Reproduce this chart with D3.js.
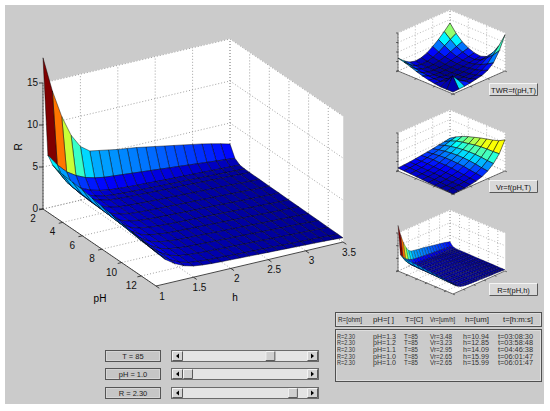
<!DOCTYPE html>
<html>
<head>
<title>R = f(pH, h)</title>
<script src="https://d3js.org/d3.v7.min.js"></script>
<style>
  body { margin: 0; background: #fff; font-family: "Liberation Sans", Arial, sans-serif; }
  .grid { stroke: #8a8a8a; stroke-width: 0.8; stroke-dasharray: 1 2; fill: none; }
  .axis { stroke: #1a1a1a; stroke-width: 0.8; fill: none; }
  .tick text { fill: #111; }
</style>
</head>
<body>
<svg id="fig" width="550" height="411"></svg>
<script>
// main surface R = f(pH, h)
var hVals = [1, 1.125, 1.25, 1.375, 1.5, 1.625, 1.75, 1.875, 2, 2.125, 2.25, 2.375, 2.5, 2.625, 2.75, 2.875, 3, 3.125, 3.25, 3.375, 3.5];
var pHVals = [2, 2.5, 3, 3.5, 4, 5, 6, 7, 8, 9, 10, 11, 12, 13, 13.5];
var R = [
  [18, 13.8, 10.5, 8.0, 6.4, 5.6, 5.4, 5.2, 5.0, 4.85, 4.7, 4.5, 4.3, 4.1, 3.9, 3.7, 3.5, 3.3, 3.05, 2.8, 2.5],
  [6.8, 5.4, 4.3, 3.6, 3.1, 2.8, 2.6, 2.5, 2.4, 2.3, 2.2, 2.1, 2.0, 1.9, 1.8, 1.7, 1.6, 1.5, 1.4, 1.3, 1.2],
  [6.0, 4.4, 3.3, 2.5, 2.0, 1.7, 1.5, 1.4, 1.32, 1.27, 1.22, 1.17, 1.12, 1.08, 1.04, 1.0, 0.96, 0.92, 0.88, 0.84, 0.8],
  [5.8, 4.1, 2.9, 2.1, 1.7, 1.45, 1.32, 1.25, 1.19, 1.15, 1.11, 1.07, 1.03, 1.0, 0.97, 0.93, 0.89, 0.85, 0.81, 0.77, 0.72],
  [5.7, 4.0, 2.8, 2.0, 1.62, 1.38, 1.27, 1.21, 1.16, 1.12, 1.08, 1.04, 1.0, 0.97, 0.94, 0.9, 0.86, 0.82, 0.78, 0.74, 0.7],
  [5.6, 3.9, 2.7, 1.95, 1.57, 1.35, 1.25, 1.19, 1.14, 1.1, 1.06, 1.02, 0.98, 0.95, 0.92, 0.88, 0.84, 0.8, 0.76, 0.72, 0.68],
  [5.5, 3.8, 2.65, 1.9, 1.54, 1.33, 1.23, 1.17, 1.12, 1.08, 1.04, 1.0, 0.97, 0.94, 0.9, 0.86, 0.82, 0.78, 0.74, 0.7, 0.66],
  [5.3, 3.7, 2.6, 1.86, 1.5, 1.31, 1.21, 1.15, 1.1, 1.06, 1.02, 0.99, 0.96, 0.92, 0.88, 0.84, 0.8, 0.76, 0.72, 0.68, 0.64],
  [5.1, 3.6, 2.5, 1.82, 1.47, 1.29, 1.19, 1.13, 1.08, 1.04, 1.01, 0.98, 0.94, 0.9, 0.86, 0.82, 0.78, 0.74, 0.7, 0.66, 0.62],
  [4.9, 3.5, 2.45, 1.78, 1.45, 1.27, 1.17, 1.11, 1.07, 1.03, 1.0, 0.96, 0.92, 0.88, 0.84, 0.8, 0.76, 0.72, 0.68, 0.64, 0.6],
  [4.7, 3.35, 2.4, 1.75, 1.43, 1.25, 1.15, 1.1, 1.06, 1.02, 0.98, 0.94, 0.9, 0.86, 0.82, 0.78, 0.74, 0.7, 0.66, 0.62, 0.58],
  [4.5, 3.2, 2.3, 1.7, 1.4, 1.23, 1.14, 1.09, 1.05, 1.01, 0.97, 0.93, 0.89, 0.85, 0.81, 0.77, 0.73, 0.69, 0.65, 0.61, 0.56],
  [4.3, 3.1, 2.25, 1.67, 1.37, 1.22, 1.13, 1.08, 1.04, 1.0, 0.96, 0.92, 0.88, 0.84, 0.8, 0.76, 0.72, 0.68, 0.64, 0.6, 0.54],
  [4.1, 3.0, 2.2, 1.65, 1.35, 1.21, 1.12, 1.07, 1.03, 0.99, 0.95, 0.91, 0.87, 0.83, 0.79, 0.75, 0.71, 0.67, 0.63, 0.58, 0.52],
  [4.0, 2.9, 2.15, 1.63, 1.33, 1.2, 1.11, 1.06, 1.02, 0.98, 0.94, 0.9, 0.86, 0.82, 0.78, 0.74, 0.7, 0.66, 0.62, 0.57, 0.5]
];
var pHTicks = [2, 4, 6, 8, 10, 12];
var hTicks = [1, 1.5, 2, 2.5, 3, 3.5];
var RTicks = [0, 5, 10, 15];

// small plots: grid steps of pH (rows) and T (columns)
var gridIdx = [0, 1, 2, 3, 4, 5, 6, 7, 8, 9];
var smallTicks = [0, 3, 6, 9];
var smallZTicks = [0, 0.25, 0.5, 0.75, 1];
var TWR = [
  [0.34, 0.20, 0.10, 0.06, 0.08, 0.14, 0.24, 0.36, 0.50, 0.66],
  [0.30, 0.16, 0.07, 0.04, 0.05, 0.09, 0.16, 0.26, 0.36, 0.45],
  [0.25, 0.12, 0.05, 0.03, 0.03, 0.06, 0.10, 0.17, 0.24, 0.30],
  [0.19, 0.09, 0.04, 0.02, 0.02, 0.04, 0.07, 0.11, 0.16, 0.20],
  [0.14, 0.07, 0.03, 0.02, 0.02, 0.03, 0.05, 0.08, 0.11, 0.14],
  [0.10, 0.06, 0.04, 0.02, 0.02, 0.03, 0.05, 0.08, 0.10, 0.12],
  [0.07, 0.06, 0.06, 0.03, 0.03, 0.04, 0.07, 0.11, 0.15, 0.18],
  [0.05, 0.14, 0.10, 0.05, 0.04, 0.06, 0.10, 0.17, 0.28, 0.35],
  [0.05, 0.34, 0.16, 0.07, 0.06, 0.09, 0.15, 0.25, 0.42, 0.60],
  [0.05, 0.06, 0.07, 0.09, 0.12, 0.15, 0.22, 0.35, 0.60, 0.95]
];
var Vr = [
  [0.08, 0.09, 0.10, 0.12, 0.14, 0.16, 0.18, 0.21, 0.23, 0.26],
  [0.07, 0.08, 0.10, 0.12, 0.15, 0.18, 0.22, 0.27, 0.32, 0.36],
  [0.06, 0.07, 0.09, 0.12, 0.16, 0.20, 0.25, 0.31, 0.38, 0.44],
  [0.05, 0.06, 0.08, 0.11, 0.15, 0.21, 0.27, 0.34, 0.42, 0.50],
  [0.04, 0.05, 0.07, 0.10, 0.15, 0.21, 0.28, 0.36, 0.45, 0.55],
  [0.03, 0.04, 0.06, 0.09, 0.14, 0.20, 0.28, 0.37, 0.48, 0.60],
  [0.02, 0.03, 0.05, 0.08, 0.12, 0.19, 0.27, 0.37, 0.50, 0.64],
  [0.02, 0.02, 0.04, 0.06, 0.10, 0.16, 0.25, 0.36, 0.51, 0.68],
  [0.01, 0.02, 0.03, 0.05, 0.08, 0.14, 0.22, 0.34, 0.51, 0.73],
  [0.00, 0.01, 0.02, 0.04, 0.07, 0.12, 0.20, 0.33, 0.52, 0.82]
];
var buttonLabels = ["TWR=f(pH,T)", "Vr=f(pH,T)", "R=f(pH,h)"];

// sliders
var sliderNames = ["T", "pH", "R"];
var sliderText = ["85", "1.0", "2.30"];
var sliderValues = [85, 1.0, 2.30];
var sliderMin = [20, 1, 0];
var sliderMax = [110, 14, 2.5];

// results table
var tableHeader = ["R=[ohm]", "pH=[ ]", "T=[C]", "Vr=[um/h]", "h=[um]", "t=[h:m:s]"];
var tabR = ["2.30", "2.30", "2.30", "2.30", "2.30"];
var tabPH = ["1.3", "1.2", "1.1", "1.0", "1.0"];
var tabT = ["85", "85", "85", "85", "85"];
var tabVr = ["3.48", "3.23", "2.95", "2.65", "2.65"];
var tabH = ["10.94", "12.85", "14.09", "15.99", "15.99"];
var tabTime = ["03:08:30", "03:58:48", "04:46:38", "06:01:47", "06:01:47"];

var svg = d3.select('#fig');
svg.append('rect').attr('x', 5).attr('y', 5).attr('width', 539).attr('height', 399).attr('fill', '#cbcbcb');

var jet = d3.scaleLinear()
  .domain([0, 0.125, 0.375, 0.625, 0.875, 1])
  .range(['#00008f', '#0000ff', '#00ffff', '#ffff00', '#ff0000', '#800000'])
  .clamp(true);

function line(pts) { return 'M' + pts.map(function(p) { return p[0] + ',' + p[1]; }).join('L'); }

function surfacePlot(g, o) {
  var uS = d3.scaleLinear().domain(o.uDom).range([0, 1]);
  var vS = d3.scaleLinear().domain(o.vDom).range([0, 1]);
  var zS = d3.scaleLinear().domain(o.zDom).range([0, o.zPx]);
  function P(u, v, z) {
    return [o.org[0] + uS(u) * o.vu[0] + vS(v) * o.vv[0],
            o.org[1] + uS(u) * o.vu[1] + vS(v) * o.vv[1] - zS(z)];
  }
  var u0 = o.uDom[0], u1 = o.uDom[1], v0 = o.vDom[0], v1 = o.vDom[1];
  var zb = o.zDom[0], zt = o.zDom[1];

  // back walls and floor
  var walls = [
    [P(u0, v0, zb), P(u0, v1, zb), P(u0, v1, zt), P(u0, v0, zt)],
    [P(u0, v1, zb), P(u1, v1, zb), P(u1, v1, zt), P(u0, v1, zt)],
    [P(u0, v0, zb), P(u1, v0, zb), P(u1, v1, zb), P(u0, v1, zb)]
  ];
  g.selectAll('.wall').data(walls).enter().append('path')
    .attr('class', 'wall').attr('d', function(d) { return line(d) + 'Z'; })
    .attr('fill', '#fff').attr('stroke', '#fff').attr('stroke-width', 0.5);

  var grid = [];
  o.uTicks.forEach(function(u) { grid.push([P(u, v0, zb), P(u, v1, zb)]); grid.push([P(u, v1, zb), P(u, v1, zt)]); });
  o.vTicks.forEach(function(v) { grid.push([P(u0, v, zb), P(u1, v, zb)]); grid.push([P(u0, v, zb), P(u0, v, zt)]); });
  o.zTicks.forEach(function(z) { grid.push([P(u0, v0, z), P(u0, v1, z)]); grid.push([P(u0, v1, z), P(u1, v1, z)]); });
  g.selectAll('.grid').data(grid).enter().append('path')
    .attr('class', 'grid').attr('d', line)
    .style('stroke-width', o.small ? 0.6 : 0.8);

  // axis lines
  var axes = [[P(u0, v0, zb), P(u0, v0, zt)], [P(u0, v0, zb), P(u1, v0, zb)], [P(u1, v0, zb), P(u1, v1, zb)]];
  g.selectAll('.axis').data(axes).enter().append('path')
    .attr('class', 'axis').attr('d', line).style('stroke-width', o.small ? 0.6 : 0.8);

  // tick marks
  var tl = o.small ? 2 : 4;
  var marks = [];
  o.zTicks.forEach(function(z) { var p = P(u0, v0, z); marks.push([p, [p[0] - tl, p[1]]]); });
  var nv = Math.hypot(o.vv[0], o.vv[1]), nu = Math.hypot(o.vu[0], o.vu[1]);
  o.uTicks.forEach(function(u) { var p = P(u, v0, zb); marks.push([p, [p[0] - tl * o.vv[0] / nv, p[1] - tl * o.vv[1] / nv]]); });
  o.vTicks.forEach(function(v) { var p = P(u1, v, zb); marks.push([p, [p[0] + tl * o.vu[0] / nu, p[1] + tl * o.vu[1] / nu]]); });
  g.selectAll('.mark').data(marks).enter().append('path')
    .attr('class', 'axis mark').attr('d', line).style('stroke-width', o.small ? 0.6 : 0.8);

  // surface faces, painted back to front
  var Z = o.Z, U = o.U, V = o.V;
  var zmin = d3.min(Z, function(r) { return d3.min(r); });
  var zmax = d3.max(Z, function(r) { return d3.max(r); });
  var cS = d3.scaleLinear().domain([zmin, zmax]).range([0, 1]);
  var faces = [];
  for (var i = 0; i < U.length - 1; i++) {
    for (var j = 0; j < V.length - 1; j++) {
      var c = P((U[i] + U[i + 1]) / 2, (V[j] + V[j + 1]) / 2, zb);
      faces.push({
        pts: [P(U[i], V[j], Z[i][j]), P(U[i], V[j + 1], Z[i][j + 1]), P(U[i + 1], V[j + 1], Z[i + 1][j + 1]), P(U[i + 1], V[j], Z[i + 1][j])],
        depth: c[1],
        color: jet(cS(Z[i][j]))
      });
    }
  }
  faces.sort(function(a, b) { return a.depth - b.depth; });
  g.selectAll('.face').data(faces).enter().append('path')
    .attr('class', 'face')
    .attr('d', function(d) { return line(d.pts) + 'Z'; })
    .attr('fill', function(d) { return d.color; })
    .attr('stroke', '#000')
    .attr('stroke-opacity', o.edgeOpacity)
    .attr('stroke-width', o.edge)
    .attr('stroke-linejoin', 'round');

  if (o.labels) {
    var t = g.append('g').attr('class', 'tick').style('font-size', '10px');
    t.selectAll('.zl').data(o.zTicks).enter().append('text')
      .attr('x', function(z) { return P(u0, v0, z)[0] - 5; })
      .attr('y', function(z) { return P(u0, v0, z)[1] - 1; })
      .attr('dy', '0.35em').attr('text-anchor', 'end').text(function(z) { return z; });
    t.selectAll('.ul').data(o.uTicks).enter().append('text')
      .attr('x', function(u) { return P(u, v0, zb)[0] - 10; })
      .attr('y', function(u) { return P(u, v0, zb)[1] + 9.5; })
      .attr('dy', '0.35em').attr('text-anchor', 'middle').text(function(u) { return u; });
    t.selectAll('.vl').data(o.vTicks).enter().append('text')
      .attr('x', function(v) { return P(u1, v, zb)[0] + 6; })
      .attr('y', function(v) { return P(u1, v, zb)[1] + 10; })
      .attr('dy', '0.35em').attr('text-anchor', 'middle').text(function(v) { return v; });
  }
}

// main axes
var mainG = svg.append('g');
surfacePlot(mainG, {
  org: [43, 209], vu: [113, 77], vv: [187, -44], zPx: 126,
  uDom: [2, 13.5], vDom: [1, 3.5], zDom: [0, 15],
  U: pHVals, V: hVals, Z: R,
  uTicks: pHTicks, vTicks: hTicks, zTicks: RTicks,
  edge: 0.6, edgeOpacity: 0.75, labels: true
});
mainG.append('text').attr('transform', 'translate(22,147) rotate(-90)')
  .attr('text-anchor', 'middle').style('font-size', '10px').text('R');
mainG.append('text').attr('x', 100).attr('y', 302).attr('text-anchor', 'middle').style('font-size', '10px').text('pH');
mainG.append('text').attr('x', 235).attr('y', 301).attr('text-anchor', 'middle').style('font-size', '10px').text('h');

// small axes
var smallTops = [0, 100, 200];
surfacePlot(svg.append('g'), {
  org: [398, smallTops[0] + 71], vu: [55, 23], vv: [52, -23], zPx: 38,
  uDom: [0, 9], vDom: [0, 9], zDom: [0, 1],
  U: gridIdx, V: gridIdx, Z: TWR,
  uTicks: smallTicks, vTicks: smallTicks, zTicks: smallZTicks,
  edge: 0.6, edgeOpacity: 0.9, small: true
});
surfacePlot(svg.append('g'), {
  org: [398, smallTops[1] + 71], vu: [55, 23], vv: [52, -23], zPx: 38,
  uDom: [0, 9], vDom: [0, 9], zDom: [0, 1],
  U: gridIdx, V: gridIdx, Z: Vr,
  uTicks: smallTicks, vTicks: smallTicks, zTicks: smallZTicks,
  edge: 0.6, edgeOpacity: 0.9, small: true
});
surfacePlot(svg.append('g'), {
  org: [398, smallTops[2] + 71], vu: [55, 23], vv: [52, -23], zPx: 38,
  uDom: [2, 13.5], vDom: [1, 3.5], zDom: [0, 15],
  U: pHVals, V: hVals, Z: R,
  uTicks: pHTicks, vTicks: hTicks, zTicks: RTicks,
  edge: 0.35, edgeOpacity: 0.85, small: true
});

// raised 3D frame helper
function bevel(g, x, y, w, h, fill, sunken) {
  var hi = sunken ? '#6e6e6e' : '#f4f4f4', lo = sunken ? '#f4f4f4' : '#5a5a5a';
  g.append('rect').attr('x', x).attr('y', y).attr('width', w).attr('height', h).attr('fill', fill);
  g.append('path').attr('d', 'M' + (x + 0.5) + ',' + (y + h - 0.5) + 'V' + (y + 0.5) + 'H' + (x + w - 0.5))
    .attr('stroke', hi).attr('fill', 'none');
  g.append('path').attr('d', 'M' + (x + 0.5) + ',' + (y + h - 0.5) + 'H' + (x + w - 0.5) + 'V' + (y + 0.5))
    .attr('stroke', lo).attr('fill', 'none');
}

// buttons under the small plots
var btnY = [83, 180, 283];
var btnG = svg.append('g');
buttonLabels.forEach(function(lbl, i) {
  bevel(btnG, 489, btnY[i], 49, 13, '#d8d8d8', false);
  btnG.append('text').attr('x', 513.5).attr('y', btnY[i] + 9.5).attr('text-anchor', 'middle')
    .style('font-size', '7.5px').attr('fill', '#111').text(lbl);
});

// sliders with their captions
var rowY = [350, 368, 387];
var slG = svg.append('g');
sliderNames.forEach(function(n, i) {
  var y = rowY[i];
  slG.append('rect').attr('x', 105.5).attr('y', y + 0.5).attr('width', 55).attr('height', 11)
    .attr('fill', '#c6c6c6').attr('stroke', '#555');
  slG.append('rect').attr('x', 106.5).attr('y', y + 1.5).attr('width', 53).attr('height', 9)
    .attr('fill', 'none').attr('stroke', '#e0e0e0').attr('stroke-width', 0.6);
  slG.append('text').attr('x', 133).attr('y', y + 8.8).attr('text-anchor', 'middle')
    .style('font-size', '7.5px').attr('fill', '#222').text(n + ' = ' + sliderText[i]);

  slG.append('rect').attr('x', 171.5).attr('y', y + 0.5).attr('width', 147).attr('height', 11)
    .attr('fill', '#e4e4e4').attr('stroke', '#6a6a6a');
  bevel(slG, 172, y + 1, 11, 10, '#d4d4d4', false);
  bevel(slG, 307, y + 1, 11, 10, '#d4d4d4', false);
  slG.append('path').attr('d', 'M176,' + (y + 6) + 'L179,' + (y + 3.5) + 'L179,' + (y + 8.5) + 'Z').attr('fill', '#000');
  slG.append('path').attr('d', 'M314,' + (y + 6) + 'L311,' + (y + 3.5) + 'L311,' + (y + 8.5) + 'Z').attr('fill', '#000');
  var sx = d3.scaleLinear().domain([sliderMin[i], sliderMax[i]]).range([183, 297]);
  bevel(slG, sx(sliderValues[i]), y + 1, 10, 10, '#cfcfcf', false);
});

// results table
var tbG = svg.append('g').style('font-size', '7px');
tbG.append('rect').attr('x', 335.5).attr('y', 312.5).attr('width', 206).attr('height', 14)
  .attr('fill', 'none').attr('stroke', '#505050');
tbG.append('rect').attr('x', 336.5).attr('y', 313.5).attr('width', 204).attr('height', 12)
  .attr('fill', 'none').attr('stroke', '#ececec').attr('stroke-width', 0.6);
var headX = [338, 373, 405, 430, 465, 503];
var headW = [24, 21, 18, 25, 24, 30];
tbG.selectAll('.hd').data(tableHeader).enter().append('text')
  .attr('x', function(d, i) { return headX[i]; }).attr('y', 322)
  .attr('textLength', function(d, i) { return headW[i]; })
  .attr('lengthAdjust', 'spacingAndGlyphs')
  .attr('fill', '#222').text(function(d) { return d; });

tbG.append('rect').attr('x', 335.5).attr('y', 329.5).attr('width', 206).attr('height', 52)
  .attr('fill', 'none').attr('stroke', '#505050');
tbG.append('rect').attr('x', 336.5).attr('y', 330.5).attr('width', 204).attr('height', 50)
  .attr('fill', 'none').attr('stroke', '#ececec').attr('stroke-width', 0.6);
var colX = [337, 373, 404, 430, 463, 498];
var colW = [18, 23, 14, 22, 26, 35];
var rowBase = d3.scaleLinear().domain([0, 4]).range([338.5, 365.3]);
tabR.forEach(function(r, k) {
  var cells = ['R=' + r, 'pH=' + tabPH[k], 'T=' + tabT[k], 'Vr=' + tabVr[k], 'h=' + tabH[k], 't=' + tabTime[k]];
  cells.forEach(function(c, m) {
    tbG.append('text').attr('x', colX[m]).attr('y', rowBase(k))
      .attr('textLength', colW[m]).attr('lengthAdjust', 'spacingAndGlyphs')
      .attr('fill', '#333').text(c);
  });
});
</script>
</body>
</html>
